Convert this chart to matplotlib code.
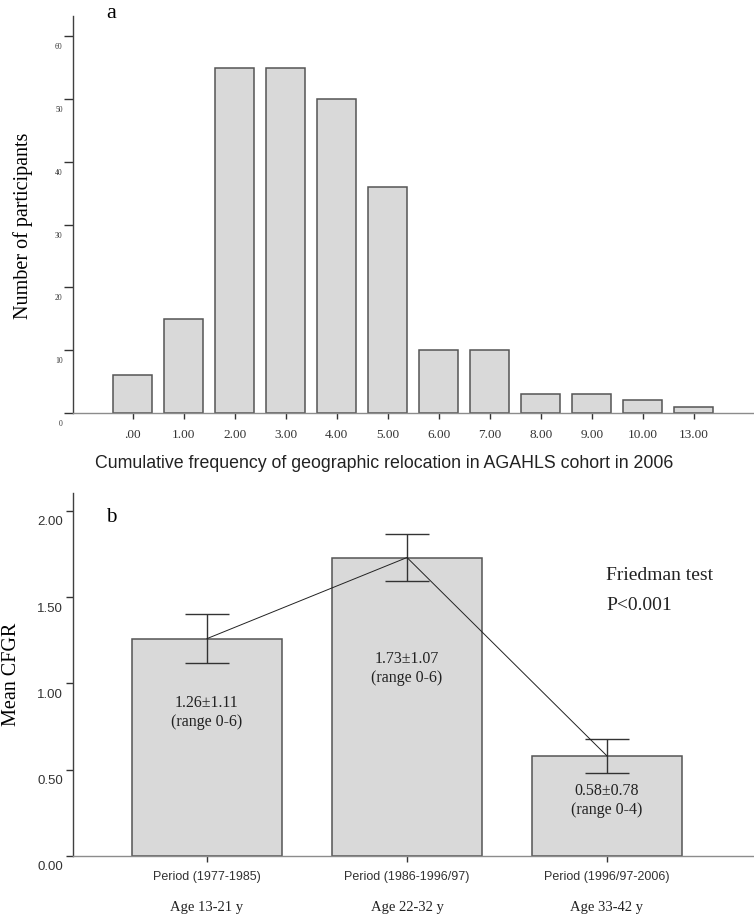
import numpy as np
import matplotlib
matplotlib.use("Agg")
import matplotlib.pyplot as plt
from matplotlib.transforms import ScaledTranslation, blended_transform_factory

# panel a: distribution of relocation counts
reloc_labels = ['.00', '1.00', '2.00', '3.00', '4.00', '5.00', '6.00',
                '7.00', '8.00', '9.00', '10.00', '13.00']
participants = [6, 15, 55, 55, 50, 36, 10, 10, 3, 3, 2, 1]
count_ticks = [0, 10, 20, 30, 40, 50, 60]

# panel b: mean CFGR per period
periods = ['Period (1977-1985)', 'Period (1986-1996/97)', 'Period (1996/97-2006)']
ages = ['Age 13-21 y', 'Age 22-32 y', 'Age 33-42 y']
mean_cfgr = [1.26, 1.73, 0.58]
sd_cfgr = [1.11, 1.07, 0.78]
ci_cfgr = [0.14, 0.135, 0.10]
ranges = ['0-6', '0-6', '0-4']
cfgr_ticks = [0.0, 0.5, 1.0, 1.5, 2.0]

serif = ['Liberation Serif', 'DejaVu Serif']
sans = ['Liberation Sans', 'DejaVu Sans']
bar_face = '#d9d9d9'
bar_edge = '#555555'

fig = plt.figure(figsize=(7.54, 9.16), dpi=100, facecolor='white')
W, H = 754.0, 916.0

# ---- panel a ----
ax1 = fig.add_axes([73 / W, 1 - 413 / H, 681 / W, 397 / H])
x1 = np.arange(len(participants))
ax1.bar(x1, participants, width=0.765, color=bar_face, edgecolor=bar_edge, linewidth=1.1)
ax1.set_xlim(-1.17, 12.18)
ax1.set_ylim(0, 63.2)
ax1.set_xticks(x1)
ax1.set_xticklabels(reloc_labels, family=serif, fontsize=9.5, color='#333333')
ax1.set_yticks(count_ticks)
ax1.set_yticklabels([str(v) for v in count_ticks], family=serif, fontsize=5.5, color='#333333')
ax1.tick_params(axis='x', length=4.5, width=1.0, color='#333333', pad=7)
ax1.tick_params(axis='y', length=6.5, width=1.0, color='#333333', pad=1)
off = ScaledTranslation(0, -10 / 100, fig.dpi_scale_trans)
for lab in ax1.get_yticklabels():
    lab.set_transform(lab.get_transform() + off)
ax1.set_ylabel('Number of participants', family=serif, fontsize=14.5, va='center')
ax1.yaxis.set_label_coords((23 - 73) / 681, (413 - 226) / 397)
ax1.set_xlabel('Cumulative frequency of geographic relocation in AGAHLS cohort in 2006',
               family=sans, fontsize=12.8, color='#222222', ha='left', va='center')
ax1.xaxis.set_label_coords((95 - 73) / 681, (413 - 463) / 397)
ax1.text((110.7 - 73) / 681, (413 - 13) / 397, 'a', transform=ax1.transAxes,
         family=serif, fontsize=16, ha='center', va='center')

# ---- panel b ----
ax2 = fig.add_axes([73 / W, 1 - 856 / H, 681 / W, 363 / H])
x2 = np.arange(len(mean_cfgr))
ax2.bar(x2, mean_cfgr, width=0.75, color=bar_face, edgecolor=bar_edge, linewidth=1.1)
ax2.errorbar(x2, mean_cfgr, yerr=ci_cfgr, fmt='none', ecolor='#333333',
             elinewidth=1.0, capsize=16, capthick=1.0)
ax2.plot(x2, mean_cfgr, color='#222222', linewidth=0.7)
ax2.set_xlim(-0.67, 2.735)
ax2.set_ylim(0, 2.104)
ax2.set_xticks(x2)
ax2.set_xticklabels(periods, family=sans, fontsize=9, color='#333333')
ax2.set_yticks(cfgr_ticks)
ax2.set_yticklabels(['%.2f' % v for v in cfgr_ticks], family=sans, fontsize=9.5, color='#333333')
ax2.tick_params(axis='x', length=4.5, width=1.0, color='#333333', pad=6)
ax2.tick_params(axis='y', length=5, width=1.0, color='#333333', pad=2)
for lab in ax2.get_yticklabels():
    lab.set_transform(lab.get_transform() + off)
ax2.set_ylabel('Mean CFGR', family=serif, fontsize=14.5, va='center')
ax2.yaxis.set_label_coords((12 - 73) / 681, 0.5)

bt = blended_transform_factory(ax2.transData, ax2.transAxes)
for xi, age in zip(x2, ages):
    ax2.text(xi, (856 - 907) / 363, age, transform=bt, family=serif, fontsize=10.5,
             ha='center', va='center', color='#222222')

label_y = [0.83, 1.085, 0.32]
for xi, m, s, r, ly in zip(x2, mean_cfgr, sd_cfgr, ranges, label_y):
    ax2.text(xi, ly, '%.2f\u00b1%.2f\n(range %s)' % (m, s, r), family=serif,
             fontsize=11.5, ha='center', va='center', linespacing=1.25, color='#222222')

ax2.text((606 - 73) / 681, (856 - 576) / 363, 'Friedman test', transform=ax2.transAxes,
         family=serif, fontsize=14, ha='left', va='center', color='#222222')
ax2.text((606 - 73) / 681, (856 - 605) / 363, 'P<0.001', transform=ax2.transAxes,
         family=serif, fontsize=14, ha='left', va='center', color='#222222')
ax2.text((111.7 - 73) / 681, (856 - 518) / 363, 'b', transform=ax2.transAxes,
         family=serif, fontsize=15, ha='center', va='center')

for ax in (ax1, ax2):
    for sp in ('top', 'right'):
        ax.spines[sp].set_visible(False)
    ax.spines['left'].set_color('#404040')
    ax.spines['left'].set_linewidth(1.0)
    ax.spines['bottom'].set_color('#8c8c8c')
    ax.spines['bottom'].set_linewidth(1.0)

fig.savefig('out.png', dpi=100)
